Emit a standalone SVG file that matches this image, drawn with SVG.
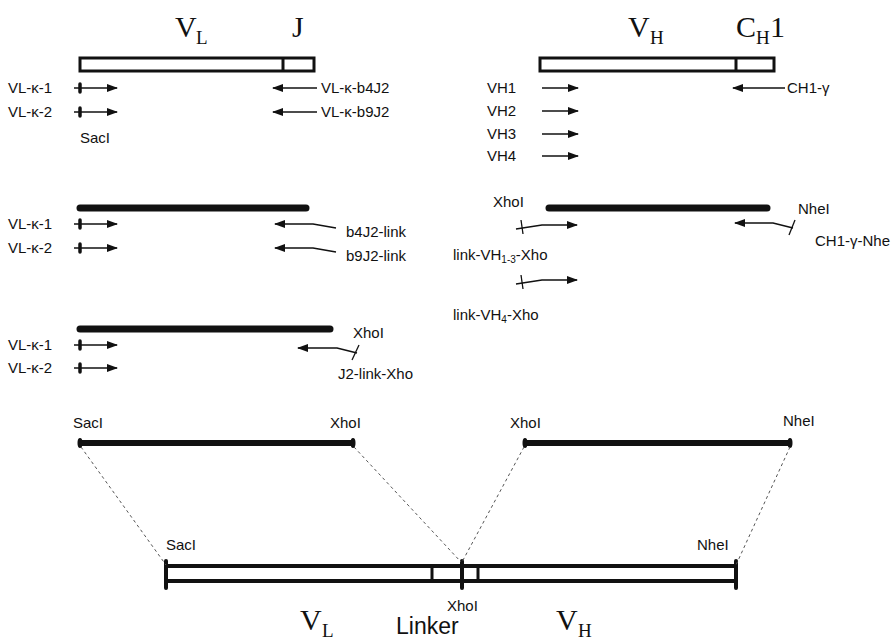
<svg xmlns="http://www.w3.org/2000/svg" width="893" height="641" viewBox="0 0 893 641">
  <style>
    .lbl { font-family: "Liberation Sans", Arial, sans-serif; font-size: 15px; fill: #111; }
    .ttl { font-family: "Liberation Serif", "Times New Roman", serif; font-size: 30px; fill: #111; }
    .sub { font-size: 19px; }
    .box { fill: #fff; stroke: #111; stroke-width: 3; }
    .div { stroke: #111; stroke-width: 3; }
    .bar { stroke: #111; stroke-width: 7; stroke-linecap: round; }
    .frag { stroke: #111; stroke-width: 6; }
    .pr { fill: none; stroke: #111; stroke-width: 1.5; marker-end: url(#head); }
    .tick { stroke: #111; stroke-width: 3.5; stroke-linecap: round; }
    .site { stroke: #111; stroke-width: 1.3; }
    .dash { fill: none; stroke: #555; stroke-width: 1; stroke-dasharray: 3 3; }
    .cons { stroke: #111; stroke-width: 4; }
  </style>
  <defs>
    <marker id="head" markerUnits="userSpaceOnUse" markerWidth="11" markerHeight="8" refX="10" refY="4" orient="auto">
      <path d="M0,0 L11,4 L0,8 z" fill="#111"/>
    </marker>
  </defs>

  <!-- light chain gene with primers -->
  <g id="vl-gene">
    <text class="ttl" x="175" y="37">V</text>
    <text class="ttl sub" x="196" y="44">L</text>
    <text class="ttl" x="292" y="37">J</text>
    <rect class="box" x="80" y="58" width="234" height="13"/>
    <line class="div" x1="283" y1="58" x2="283" y2="71"/>
  </g>
  <g id="vl-primers">
    <text class="lbl" x="8" y="93">VL-κ-1</text>
    <text class="lbl" x="8" y="117">VL-κ-2</text>
    <text class="lbl" x="80" y="143">SacI</text>
    <text class="lbl" x="321" y="93">VL-κ-b4J2</text>
    <text class="lbl" x="321" y="117">VL-κ-b9J2</text>
  </g>

  <!-- heavy chain gene with primers -->
  <g id="vh-gene">
    <text class="ttl" x="628" y="37">V</text>
    <text class="ttl sub" x="650" y="44">H</text>
    <text class="ttl" x="736" y="37">C</text>
    <text class="ttl sub" x="756" y="44">H</text>
    <text class="ttl" x="770" y="37">1</text>
    <rect class="box" x="540" y="58" width="234" height="13"/>
    <line class="div" x1="736" y1="58" x2="736" y2="71"/>
  </g>
  <g id="vh-primers">
    <text class="lbl" x="487" y="93">VH1</text>
    <text class="lbl" x="487" y="116">VH2</text>
    <text class="lbl" x="487" y="139">VH3</text>
    <text class="lbl" x="487" y="161">VH4</text>
    <text class="lbl" x="787" y="93">CH1-γ</text>
  </g>

  <!-- light chain PCR product, linker-adding primers -->
  <g id="vl-product">
    <line class="bar" x1="80" y1="208" x2="306" y2="208"/>
    <text class="lbl" x="8" y="229">VL-κ-1</text>
    <text class="lbl" x="8" y="253">VL-κ-2</text>
    <text class="lbl" x="346" y="237">b4J2-link</text>
    <text class="lbl" x="346" y="261">b9J2-link</text>
  </g>

  <!-- heavy chain PCR product, XhoI/NheI primers -->
  <g id="vh-product">
    <line class="bar" x1="549" y1="208" x2="767" y2="208"/>
    <text class="lbl" x="493" y="207">XhoI</text>
    <text class="lbl" x="798" y="214">NheI</text>
    <text class="lbl" x="453" y="260">link-VH<tspan font-size="10" dy="3">1-3</tspan><tspan dy="-3">-Xho</tspan></text>
    <text class="lbl" x="453" y="320">link-VH<tspan font-size="10" dy="3">4</tspan><tspan dy="-3">-Xho</tspan></text>
    <text class="lbl" x="815" y="246">CH1-γ-Nhe</text>
  </g>

  <!-- linked light chain product -->
  <g id="vl-linked">
    <line class="bar" x1="80" y1="329" x2="330" y2="329"/>
    <text class="lbl" x="8" y="350">VL-κ-1</text>
    <text class="lbl" x="8" y="373">VL-κ-2</text>
    <text class="lbl" x="353" y="338">XhoI</text>
    <text class="lbl" x="338" y="379">J2-link-Xho</text>
  </g>

  <!-- digested fragments -->
  <g id="vl-fragment">
    <text class="lbl" x="73" y="428">SacI</text>
    <text class="lbl" x="330" y="428">XhoI</text>
    <line class="frag" x1="80" y1="443" x2="353" y2="443"/>
    <ellipse cx="80" cy="443" rx="2.5" ry="5" fill="#111"/>
    <ellipse cx="353" cy="443" rx="2.5" ry="5" fill="#111"/>
  </g>
  <g id="vh-fragment">
    <text class="lbl" x="510" y="428">XhoI</text>
    <text class="lbl" x="783" y="426">NheI</text>
    <line class="frag" x1="525" y1="443" x2="790" y2="443"/>
    <ellipse cx="525" cy="443" rx="2.5" ry="5" fill="#111"/>
    <ellipse cx="790" cy="443" rx="2.5" ry="5" fill="#111"/>
  </g>

  <!-- assembled scFv construct -->
  <g id="scfv">
    <text class="lbl" x="166" y="550">SacI</text>
    <text class="lbl" x="697" y="550">NheI</text>
    <line class="cons" x1="166" y1="566" x2="736" y2="566"/>
    <line class="cons" x1="166" y1="581" x2="736" y2="581"/>
    <line class="cons" x1="166" y1="561" x2="166" y2="588" stroke-linecap="round"/>
    <line class="cons" x1="736" y1="561" x2="736" y2="588" stroke-linecap="round"/>
    <line class="div" x1="432" y1="566" x2="432" y2="581"/>
    <line class="cons" x1="462" y1="561" x2="462" y2="588" stroke-linecap="round"/>
    <line class="div" x1="478" y1="566" x2="478" y2="581"/>
    <text class="lbl" x="447" y="611">XhoI</text>
    <text class="ttl" x="300" y="630">V</text>
    <text class="ttl sub" x="322" y="637">L</text>
    <text class="lbl" x="396" y="634" style="font-size:23px">Linker</text>
    <text class="ttl" x="556" y="630">V</text>
    <text class="ttl sub" x="578" y="637">H</text>
  </g>

  <!-- primers, restriction-site tails and fragment-to-construct guides -->
  <g id="connectors">
    <!-- forward light-chain primers with SacI site -->
    <line class="pr" x1="74" y1="88" x2="117" y2="88"/>
    <line class="tick" x1="80" y1="84" x2="80" y2="92"/>
    <line class="pr" x1="74" y1="112" x2="117" y2="112"/>
    <line class="tick" x1="80" y1="108" x2="80" y2="116"/>
    <line class="pr" x1="74" y1="224" x2="117" y2="224"/>
    <line class="tick" x1="80" y1="220" x2="80" y2="228"/>
    <line class="pr" x1="74" y1="248" x2="117" y2="248"/>
    <line class="tick" x1="80" y1="244" x2="80" y2="252"/>
    <line class="pr" x1="74" y1="345" x2="117" y2="345"/>
    <line class="tick" x1="80" y1="341" x2="80" y2="349"/>
    <line class="pr" x1="74" y1="368" x2="117" y2="368"/>
    <line class="tick" x1="80" y1="364" x2="80" y2="372"/>

    <!-- reverse light-chain primers -->
    <line class="pr" x1="317" y1="88" x2="273" y2="88"/>
    <line class="pr" x1="317" y1="112" x2="273" y2="112"/>
    <polyline class="pr" points="336,228 313,224 275,224"/>
    <polyline class="pr" points="336,252 313,248 275,248"/>
    <polyline class="pr" points="357,353 337,348 298,348"/>
    <line class="site" x1="359" y1="345" x2="352" y2="360"/>

    <!-- heavy-chain primers -->
    <line class="pr" x1="542" y1="88" x2="578" y2="88"/>
    <line class="pr" x1="542" y1="111" x2="578" y2="111"/>
    <line class="pr" x1="542" y1="134" x2="578" y2="134"/>
    <line class="pr" x1="542" y1="156" x2="578" y2="156"/>
    <line class="pr" x1="785" y1="88" x2="733" y2="88"/>
    <polyline class="pr" points="516,229 542,225 577,225"/>
    <line class="site" x1="521" y1="220" x2="523" y2="234"/>
    <polyline class="pr" points="516,284 542,280 577,280"/>
    <line class="site" x1="521" y1="275" x2="523" y2="289"/>
    <polyline class="pr" points="793,228 773,223 735,223"/>
    <line class="site" x1="795" y1="220" x2="789" y2="235"/>

    <!-- guides from fragments to assembled construct -->
    <line class="dash" x1="81" y1="447" x2="166" y2="565"/>
    <line class="dash" x1="354" y1="447" x2="461" y2="562"/>
    <line class="dash" x1="524" y1="447" x2="462" y2="562"/>
    <line class="dash" x1="790" y1="447" x2="736" y2="565"/>
  </g>
</svg>
